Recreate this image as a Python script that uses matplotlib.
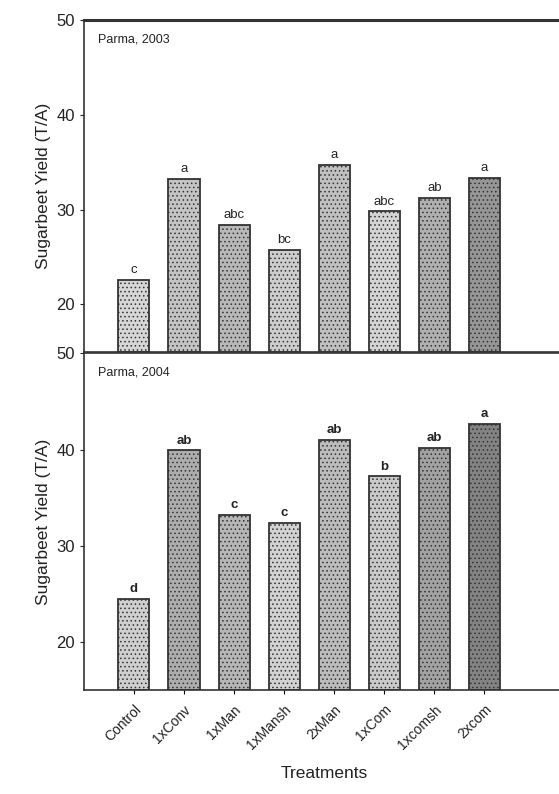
import numpy as np
import matplotlib
matplotlib.use("Agg")
import matplotlib.pyplot as plt

plt.rcParams['font.family'] = ['Liberation Sans', 'DejaVu Sans']

treatments = ["Control", "1xConv", "1xMan", "1xMansh", "2xMan", "1xCom", "1xcomsh", "2xcom"]

# Parma 2003
yield_2003 = [22.6, 33.2, 28.4, 25.7, 34.7, 29.8, 31.2, 33.3]
letters_2003 = ["c", "a", "abc", "bc", "a", "abc", "ab", "a"]

# Parma 2004
yield_2004 = [24.5, 39.9, 33.2, 32.4, 41.0, 37.2, 40.2, 42.7]
letters_2004 = ["d", "ab", "c", "c", "ab", "b", "ab", "a"]

# grey level of the stippled fill for each bar (scan look)
shade_2003 = ["#d6d6d6", "#c4c4c4", "#b8b8b8", "#cdcdcd", "#c0c0c0", "#d4d4d4", "#b0b0b0", "#969696"]
shade_2004 = ["#cfcfcf", "#adadad", "#b6b6b6", "#d2d2d2", "#bcbcbc", "#cacaca", "#a2a2a2", "#838383"]

plt.rcParams['hatch.linewidth'] = 0.6
plt.rcParams['hatch.color'] = "#555555"

fig = plt.figure(figsize=(5.59, 7.94), dpi=100)
ax1 = fig.add_axes([0.150, 0.557, 0.86, 0.418])
ax2 = fig.add_axes([0.150, 0.131, 0.86, 0.424])

x = np.arange(1, len(treatments) + 1)


def draw_panel(ax, vals, letters, shades, title, bold):
    for xi, v, s in zip(x, vals, shades):
        ax.bar(xi, v - 15, bottom=15, width=0.62, color=s, edgecolor="#333333",
               linewidth=1.3, hatch="....", zorder=2)
    for xi, v, l in zip(x, vals, letters):
        ax.text(xi, v + 0.4, l, ha="center", va="bottom", fontsize=9.5,
                fontweight="bold" if bold else "normal", color="#222222")
    ax.set_ylim(15, 50)
    ax.set_xlim(0, 9.6)
    ax.set_yticks([20, 30, 40, 50])
    ax.set_ylabel("Sugarbeet Yield (T/A)", fontsize=12.5, color="#222222", labelpad=4)
    ax.tick_params(axis="y", labelsize=12, direction="out", length=3, colors="#222222")
    ax.text(0.03, 0.96, title, transform=ax.transAxes, fontsize=9, va="top", ha="left",
            color="#222222")
    for sp in ax.spines.values():
        sp.set_color("#333333")
        sp.set_linewidth(1.2)
    ax.spines["right"].set_visible(False)


draw_panel(ax1, yield_2003, letters_2003, shade_2003, "Parma, 2003", False)
draw_panel(ax2, yield_2004, letters_2004, shade_2004, "Parma, 2004", True)

ax1.spines["top"].set_linewidth(2.2)
ax1.set_xticks([])

ax2.set_xticks(x)
ax2.set_xticklabels(treatments, rotation=45, ha="right", rotation_mode="anchor", fontsize=10,
                    color="#222222")
ax2.tick_params(axis="x", direction="out", length=3, pad=6)
ax2.set_xlabel("Treatments", fontsize=12.5, color="#222222", labelpad=10)

fig.savefig("out.png", dpi=100)
